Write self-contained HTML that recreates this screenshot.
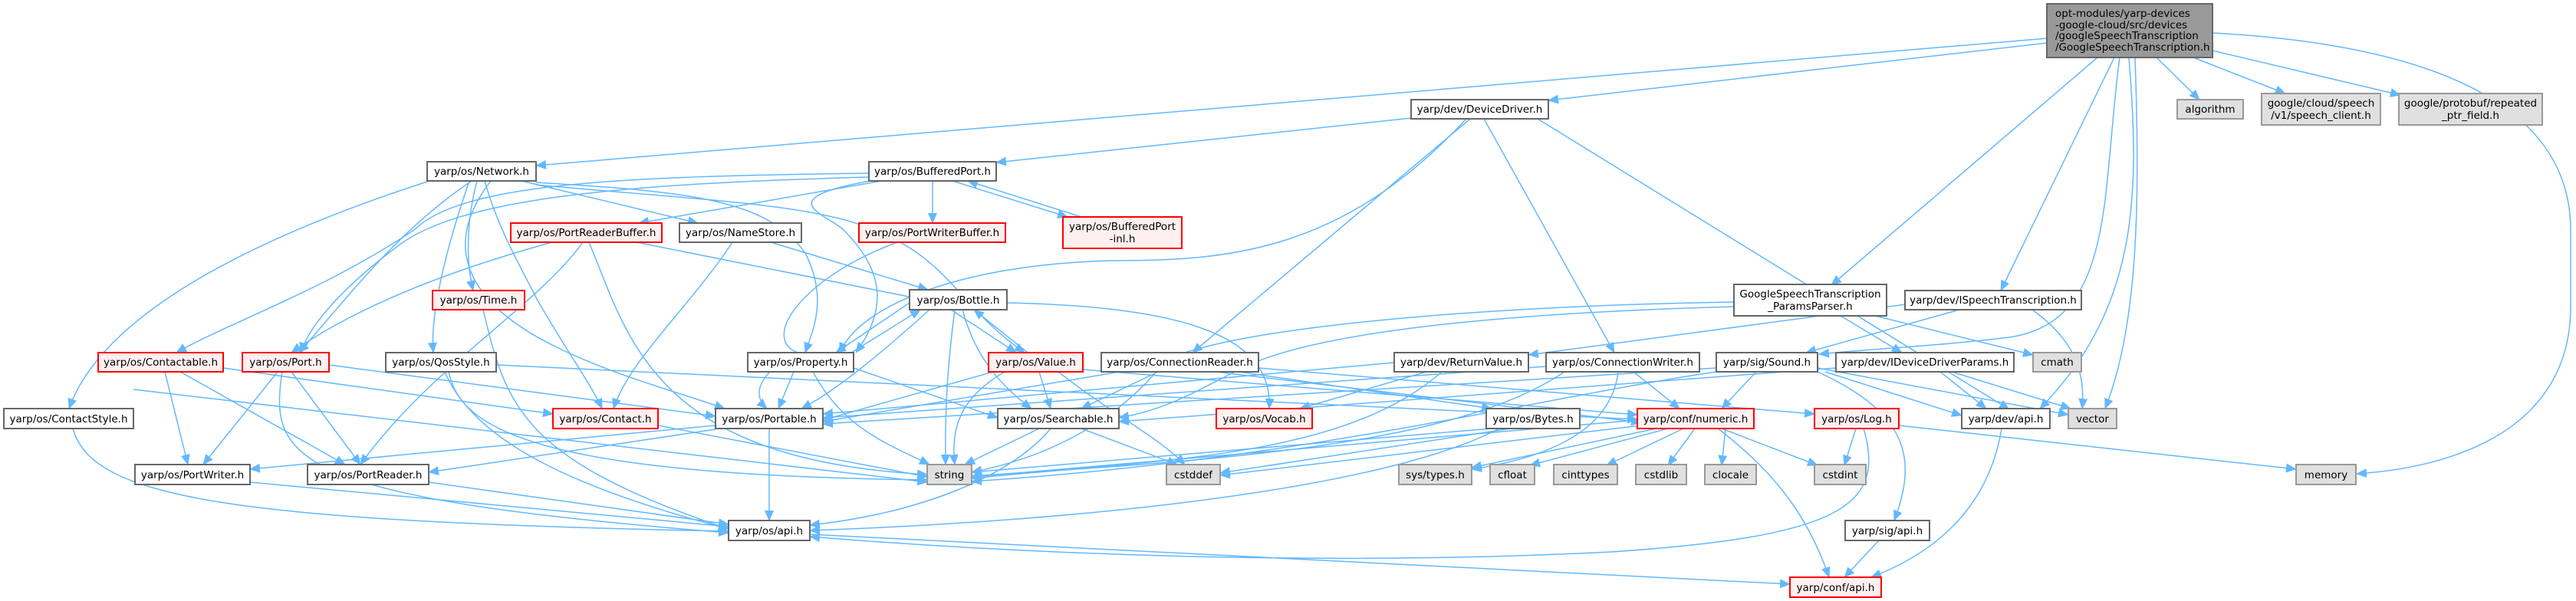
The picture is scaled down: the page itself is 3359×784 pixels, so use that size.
<!DOCTYPE html>
<html><head><meta charset="utf-8">
<style>
html,body{margin:0;padding:0;background:#fff;}
svg{display:block;}
.e{fill:none;stroke:#63b8ff;stroke-width:1.5;marker-end:url(#a);}
.n rect{stroke:#666;stroke-width:2;fill:#fff;}
.r rect{stroke:#ff0000;stroke-width:2;fill:#fff0f0;}
.g rect{stroke:#999;stroke-width:2;fill:#e0e0e0;}
text{font-family:"DejaVu Sans","Liberation Sans",sans-serif;font-size:13.5px;fill:#000;text-anchor:middle;}
</style></head><body>
<svg width="3359" height="784" viewBox="0 0 3359 784" xmlns="http://www.w3.org/2000/svg">
<defs><marker id="a" markerUnits="userSpaceOnUse" markerWidth="14" markerHeight="12" refX="13" refY="6" orient="auto"><path d="M0,0 L14,6 L0,12 z" fill="#63b8ff"/></marker></defs>

<!-- edges -->
<path class="e" d="M2669,50 L699,216"/>
<path class="e" d="M2669,56 L2019,131"/>
<path class="e" d="M2735,75 L2388,372"/>
<path class="e" d="M2757,75 L2609,379"/>
<path class="e" d="M2764,75 C2740,250 2760,420 2620,440 C2520,452 2440,455 2372,462"/>
<path class="e" d="M2776,75 C2790,250 2790,400 2660,533"/>
<path class="e" d="M2784,75 C2790,250 2790,420 2745,533"/>
<path class="e" d="M2812,75 L2868,130"/>
<path class="e" d="M2860,75 L2980,122"/>
<path class="e" d="M2885,66 L3130,124"/>
<path class="e" d="M2885,43 C3200,60 3352,150 3352,300 L3352,400 C3352,560 3200,610 3073,618"/>

<path class="e" d="M1840,154 L1299,212"/>
<path class="e" d="M1912,155 C1750,330 1600,340 1450,340 C1250,345 1120,400 1095,460"/>
<path class="e" d="M1917,155 L1555,460"/>
<path class="e" d="M1935,155 L2105,460"/>
<path class="e" d="M2005,155 L2620,534"/>

<path class="e" d="M560,236 C300,320 130,420 90,533"/>
<path class="e" d="M615,236 C520,300 460,380 390,460"/>
<path class="e" d="M612,236 C590,300 560,400 565,460"/>
<path class="e" d="M622,236 C605,300 610,350 617,379"/>
<path class="e" d="M680,236 L910,291"/>
<path class="e" d="M632,236 C650,300 680,350 700,390 C740,460 770,500 785,533"/>
<path class="e" d="M640,236 C560,340 640,410 720,450 C800,490 880,510 945,533"/>
<path class="e" d="M699,238 C900,250 1000,260 1050,330 C1080,390 1060,430 1050,460"/>
<path class="e" d="M699,241 C900,260 1060,265 1140,300 C1240,340 1250,400 1336,460"/>

<path class="e" d="M1133,226 C800,230 600,240 540,300 C420,380 300,420 230,460"/>
<path class="e" d="M1133,231 C800,240 600,260 520,320 C440,380 400,430 393,460"/>
<path class="e" d="M1150,236 L833,291"/>
<path class="e" d="M1216,236 L1216,291"/>
<path class="e" d="M1242,236 L1392,283"/>
<path class="e" d="M1410,283 L1262,236"/>
<path class="e" d="M1135,236 C1000,260 1080,280 1100,300 C1150,350 1160,400 1116,460"/>

<path class="e" d="M720,316 C560,360 450,410 380,460"/>
<path class="e" d="M760,316 C700,400 560,480 470,606"/>
<path class="e" d="M830,316 L1200,390"/>
<path class="e" d="M768,316 C820,440 850,600 1209,619"/>
<path class="e" d="M1170,316 C1050,360 990,440 1040,460 C1000,480 975,510 1000,533"/>
<path class="e" d="M955,316 C900,400 820,470 800,533"/>
<path class="e" d="M1005,316 L1210,378"/>
<path class="e" d="M630,404 C660,530 680,600 950,690"/>

<path class="e" d="M1186,395 L1090,460"/>
<path class="e" d="M1110,460 L1200,404"/>
<path class="e" d="M1240,404 L1325,460"/>
<path class="e" d="M1340,460 L1270,404"/>
<path class="e" d="M1255,404 C1270,460 1300,500 1345,533"/>
<path class="e" d="M1212,404 C1150,460 1090,510 1045,533"/>
<path class="e" d="M1245,404 C1235,480 1232,540 1233,606"/>
<path class="e" d="M1313,395 C1550,400 1660,440 1655,533"/>

<path class="e" d="M1035,485 L1015,533"/>
<path class="e" d="M1113,480 L1301,545"/>
<path class="e" d="M1060,485 C1100,560 1160,580 1212,606"/>
<path class="e" d="M1355,485 L1370,533"/>
<path class="e" d="M1295,485 L1073,548"/>
<path class="e" d="M1310,485 C1250,520 1240,560 1245,606"/>
<path class="e" d="M1380,485 C1450,540 1510,570 1545,606"/>
<path class="e" d="M1412,482 L2135,541"/>

<path class="e" d="M291,480 L721,540"/>
<path class="e" d="M215,485 L245,606"/>
<path class="e" d="M235,485 L450,606"/>
<path class="e" d="M429,476 L933,543"/>
<path class="e" d="M362,485 L265,606"/>
<path class="e" d="M380,485 L470,606"/>
<path class="e" d="M368,485 C350,600 380,650 950,695"/>
<path class="e" d="M647,476 L2135,547"/>
<path class="e" d="M585,485 C600,560 700,620 1209,626"/>
<path class="e" d="M580,485 C620,580 760,640 950,690"/>
<path class="e" d="M174,508 L1209,629"/>
<path class="e" d="M95,559 C120,650 300,680 950,693"/>
<path class="e" d="M858,555 L1209,622"/>
<path class="e" d="M933,555 L326,612"/>
<path class="e" d="M933,560 L559,616"/>
<path class="e" d="M1003,559 L1003,679"/>
<path class="e" d="M326,629 L950,687"/>
<path class="e" d="M559,629 L950,684"/>

<path class="e" d="M1355,559 L1258,606"/>
<path class="e" d="M1410,559 L1535,606"/>
<path class="e" d="M1370,559 C1320,620 1200,670 1056,685"/>
<path class="e" d="M1510,485 L1410,533"/>
<path class="e" d="M1460,485 L1073,550"/>
<path class="e" d="M1615,485 L1945,533"/>
<path class="e" d="M1585,485 L2140,551"/>
<path class="e" d="M1641,480 L2366,540"/>
<path class="e" d="M1860,485 L1695,533"/>
<path class="e" d="M1880,485 C1750,600 1500,600 1267,624"/>
<path class="e" d="M1818,473 L1073,540"/>
<path class="e" d="M2130,485 L2190,533"/>
<path class="e" d="M2040,485 C1900,580 1600,600 1267,621"/>
<path class="e" d="M2016,478 L1073,545"/>
<path class="e" d="M2110,485 C2100,570 2000,600 1919,612"/>
<path class="e" d="M2500,395 L1993,463"/>

<path class="e" d="M2400,412 L2480,460"/>
<path class="e" d="M2445,412 L2651,463"/>
<path class="e" d="M2261,400 C1900,410 1700,440 1620,480 C1560,510 1520,535 1459,545"/>
<path class="e" d="M2261,394 C1900,400 1600,430 1520,470 C1450,560 1350,600 1267,616"/>
<path class="e" d="M2555,404 L2355,460"/>
<path class="e" d="M2650,404 C2700,440 2720,480 2715,533"/>
<path class="e" d="M2290,485 L2245,533"/>
<path class="e" d="M2380,485 L2558,542"/>
<path class="e" d="M2370,480 L2697,541"/>
<path class="e" d="M2370,485 C2490,540 2500,600 2470,679"/>
<path class="e" d="M2238,480 L1073,553"/>
<path class="e" d="M2238,485 C2000,520 1700,600 1267,628"/>
<path class="e" d="M2530,485 L2590,533"/>
<path class="e" d="M2545,485 L2700,533"/>
<path class="e" d="M2394,480 L1459,550"/>

<path class="e" d="M1945,559 L1267,616"/>
<path class="e" d="M1970,559 L1591,617"/>
<path class="e" d="M1955,559 C1800,640 1400,680 1056,692"/>
<path class="e" d="M2160,559 L1919,610"/>
<path class="e" d="M2175,559 L1995,607"/>
<path class="e" d="M2195,559 L2095,607"/>
<path class="e" d="M2210,559 L2175,607"/>
<path class="e" d="M2250,559 L2245,607"/>
<path class="e" d="M2245,559 L2370,607"/>
<path class="e" d="M2135,548 L1267,622"/>
<path class="e" d="M2140,555 L1591,620"/>
<path class="e" d="M2240,559 C2320,620 2360,680 2385,753"/>
<path class="e" d="M2420,559 L2405,607"/>
<path class="e" d="M2430,559 C2460,660 2400,700 2100,720 C1700,740 1300,720 1056,700"/>
<path class="e" d="M2476,555 L2994,612"/>
<path class="e" d="M2610,559 C2590,680 2500,730 2440,753"/>
<path class="e" d="M2450,705 L2405,753"/>
<path class="e" d="M1056,697 L2334,762"/>

<!-- nodes -->
<g class="n" style="--x:0">
<rect x="2669" y="5" width="216" height="70" style="fill:#999;stroke:#666"/>
</g>
<text x="2680" y="22" style="text-anchor:start">opt-modules/yarp-devices</text>
<text x="2680" y="37" style="text-anchor:start">-google-cloud/src/devices</text>
<text x="2680" y="51" style="text-anchor:start">/googleSpeechTranscription</text>
<text x="2680" y="66" style="text-anchor:start">/GoogleSpeechTranscription.h</text>

<g class="n"><rect x="1840" y="130" width="179" height="25"/><text x="1929.5" y="147">yarp/dev/DeviceDriver.h</text></g>
<g class="g"><rect x="2839" y="130" width="86" height="25"/><text x="2882" y="147">algorithm</text></g>
<g class="g"><rect x="2949" y="122" width="155" height="41"/><text x="3026.5" y="139">google/cloud/speech</text><text x="3026.5" y="155">/v1/speech_client.h</text></g>
<g class="g"><rect x="3128" y="122" width="187" height="41"/><text x="3221.5" y="139">google/protobuf/repeated</text><text x="3221.5" y="155">_ptr_field.h</text></g>

<g class="n"><rect x="557" y="211" width="142" height="25"/><text x="628" y="228">yarp/os/Network.h</text></g>
<g class="n"><rect x="1133" y="211" width="166" height="25"/><text x="1216" y="228">yarp/os/BufferedPort.h</text></g>
<g class="r"><rect x="666" y="291" width="197" height="25"/><text x="764.5" y="308">yarp/os/PortReaderBuffer.h</text></g>
<g class="n"><rect x="886" y="291" width="159" height="25"/><text x="965.5" y="308">yarp/os/NameStore.h</text></g>
<g class="r"><rect x="1120" y="291" width="191" height="25"/><text x="1215.5" y="308">yarp/os/PortWriterBuffer.h</text></g>
<g class="r"><rect x="1386" y="283" width="155" height="41"/><text x="1463.5" y="300">yarp/os/BufferedPort</text><text x="1463.5" y="316">-inl.h</text></g>
<g class="n"><rect x="2261" y="371" width="199" height="41"/><text x="2360.5" y="388">GoogleSpeechTranscription</text><text x="2360.5" y="404">_ParamsParser.h</text></g>
<g class="n"><rect x="2484" y="379" width="230" height="25"/><text x="2599" y="396">yarp/dev/ISpeechTranscription.h</text></g>
<g class="r"><rect x="564" y="379" width="120" height="25"/><text x="624" y="396">yarp/os/Time.h</text></g>
<g class="n"><rect x="1186" y="378" width="127" height="26"/><text x="1249.5" y="396">yarp/os/Bottle.h</text></g>

<g class="r"><rect x="128" y="460" width="163" height="25"/><text x="209.5" y="477">yarp/os/Contactable.h</text></g>
<g class="r"><rect x="316" y="460" width="113" height="25"/><text x="372.5" y="477">yarp/os/Port.h</text></g>
<g class="n"><rect x="503" y="460" width="144" height="25"/><text x="575" y="477">yarp/os/QosStyle.h</text></g>
<g class="n"><rect x="975" y="460" width="138" height="25"/><text x="1044" y="477">yarp/os/Property.h</text></g>
<g class="r"><rect x="1289" y="460" width="123" height="25"/><text x="1350.5" y="477">yarp/os/Value.h</text></g>
<g class="n"><rect x="1436" y="460" width="205" height="25"/><text x="1538.5" y="477">yarp/os/ConnectionReader.h</text></g>
<g class="n"><rect x="1818" y="460" width="175" height="25"/><text x="1905.5" y="477">yarp/dev/ReturnValue.h</text></g>
<g class="n"><rect x="2016" y="460" width="200" height="25"/><text x="2116" y="477">yarp/os/ConnectionWriter.h</text></g>
<g class="n"><rect x="2238" y="460" width="132" height="25"/><text x="2304" y="477">yarp/sig/Sound.h</text></g>
<g class="n"><rect x="2394" y="460" width="232" height="25"/><text x="2510" y="477">yarp/dev/IDeviceDriverParams.h</text></g>
<g class="g"><rect x="2651" y="460" width="63" height="25"/><text x="2682.5" y="477">cmath</text></g>

<g class="n"><rect x="5" y="533" width="169" height="26"/><text x="89.5" y="551">yarp/os/ContactStyle.h</text></g>
<g class="r"><rect x="721" y="533" width="137" height="26"/><text x="789.5" y="551">yarp/os/Contact.h</text></g>
<g class="n"><rect x="933" y="533" width="140" height="26"/><text x="1003" y="551">yarp/os/Portable.h</text></g>
<g class="n"><rect x="1301" y="533" width="158" height="26"/><text x="1380" y="551">yarp/os/Searchable.h</text></g>
<g class="r"><rect x="1586" y="533" width="125" height="26"/><text x="1648.5" y="551">yarp/os/Vocab.h</text></g>
<g class="n"><rect x="1938" y="533" width="122" height="26"/><text x="1999" y="551">yarp/os/Bytes.h</text></g>
<g class="r"><rect x="2135" y="533" width="152" height="26"/><text x="2211" y="551">yarp/conf/numeric.h</text></g>
<g class="r"><rect x="2366" y="533" width="110" height="26"/><text x="2421" y="551">yarp/os/Log.h</text></g>
<g class="n"><rect x="2558" y="533" width="115" height="26"/><text x="2615.5" y="551">yarp/dev/api.h</text></g>
<g class="g"><rect x="2697" y="533" width="63" height="26"/><text x="2728.5" y="551">vector</text></g>

<g class="n"><rect x="176" y="606" width="150" height="26"/><text x="251" y="624">yarp/os/PortWriter.h</text></g>
<g class="n"><rect x="401" y="606" width="158" height="26"/><text x="480" y="624">yarp/os/PortReader.h</text></g>
<g class="g"><rect x="1209" y="606" width="58" height="26"/><text x="1238" y="624">string</text></g>
<g class="g"><rect x="1521" y="606" width="70" height="26"/><text x="1556" y="624">cstddef</text></g>
<g class="g"><rect x="1824" y="606" width="95" height="26"/><text x="1871.5" y="624">sys/types.h</text></g>
<g class="g"><rect x="1943" y="606" width="58" height="26"/><text x="1972" y="624">cfloat</text></g>
<g class="g"><rect x="2026" y="606" width="83" height="26"/><text x="2067.5" y="624">cinttypes</text></g>
<g class="g"><rect x="2133" y="606" width="66" height="26"/><text x="2166" y="624">cstdlib</text></g>
<g class="g"><rect x="2223" y="606" width="67" height="26"/><text x="2256.5" y="624">clocale</text></g>
<g class="g"><rect x="2366" y="606" width="67" height="26"/><text x="2399.5" y="624">cstdint</text></g>
<g class="g"><rect x="2994" y="606" width="78" height="26"/><text x="3033" y="624">memory</text></g>

<g class="n"><rect x="950" y="679" width="106" height="26"/><text x="1003" y="697">yarp/os/api.h</text></g>
<g class="n"><rect x="2406" y="679" width="110" height="26"/><text x="2461" y="697">yarp/sig/api.h</text></g>
<g class="r"><rect x="2334" y="753" width="119" height="26"/><text x="2393.5" y="771">yarp/conf/api.h</text></g>
</svg>
</body></html>
